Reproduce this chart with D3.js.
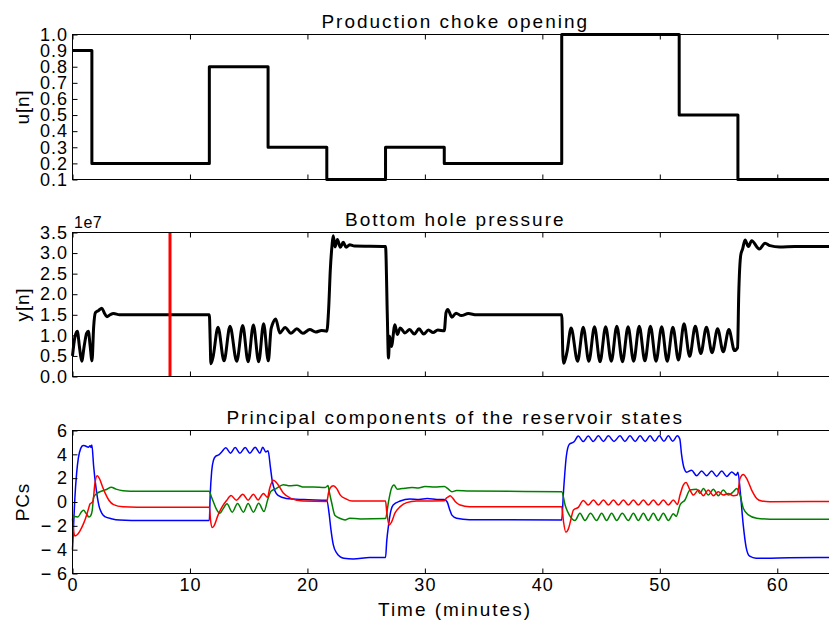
<!DOCTYPE html>
<html>
<head>
<meta charset="utf-8">
<script src="https://cdnjs.cloudflare.com/ajax/libs/d3/7.8.5/d3.min.js"></script>
<style>
  body { margin: 0; background: #fff; }
  svg text { font-family: "Liberation Sans", Arial, sans-serif; fill: #000; }
</style>
</head>
<body>
<div class="view"></div>
<script>
//Time axis (minutes)
const timeTicks = [0, 10, 20, 30, 40, 50, 60];
const timeMax = 65;

//Production choke opening u[n]: switch times and the level held after each
const stepTimes = [0, 1.65, 11.65, 16.65, 21.65, 26.65, 31.65, 41.65, 51.65, 56.65, 65];
const chokeLevels = [0.9, 0.2, 0.8, 0.3, 0.1, 0.3, 0.2, 1.0, 0.5, 0.1, 0.1];
const uTicks = [0.1, 0.2, 0.3, 0.4, 0.5, 0.6, 0.7, 0.8, 0.9, 1.0];

//Bottom hole pressure y[n], in units of 1e7, as [minutes, value]
const pressure = [
  [0,0.5],[0.2,0.95],[0.41,1.1],[0.6,0.7],[0.78,0.37],[1.0,0.75],[1.2,1.05],[1.35,1.1],[1.5,0.75],[1.66,0.38],
  [1.8,1.2],[1.95,1.55],[2.2,1.6],[2.5,1.66],[2.7,1.55],[2.93,1.45],[3.2,1.5],[3.5,1.53],[4.0,1.5],[11.65,1.5],
  [11.72,0.9],[11.78,0.31],[11.95,0.45],[12.39,1.2],[12.9,0.38],[13.41,1.22],[13.98,0.37],[14.49,1.24],[14.95,0.36],
  [15.4,1.25],[15.85,0.36],[16.27,1.28],[16.67,0.38],
  [16.9,1.15],[17.0,1.25],[17.3,1.4],[17.65,1.06],[18.1,1.19],[18.6,1.05],[19.1,1.16],[19.6,1.05],[20.2,1.14],
  [20.7,1.08],[21.2,1.12],[21.65,1.1],
  [21.8,1.6],[21.95,2.6],[22.1,3.2],[22.2,3.42],[22.35,3.15],[22.55,3.33],[22.8,3.14],[23.05,3.26],[23.3,3.14],
  [23.6,3.2],[24.0,3.17],[26.65,3.16],
  [26.8,1.5],[26.9,0.45],[27.0,0.98],[27.15,0.73],[27.45,1.26],[27.65,1.02],[27.9,1.18],[28.3,1.06],[28.7,1.14],
  [29.1,1.03],[29.5,1.16],[29.9,1.03],[30.3,1.13],[30.7,1.07],[31.1,1.13],[31.65,1.11],
  [31.8,1.55],[31.95,1.63],[32.3,1.44],[32.65,1.54],[33.1,1.48],[33.7,1.53],[34.4,1.5],[41.65,1.5],
  [41.75,0.5],[41.82,0.32],[42.1,0.6],[42.45,1.18],[43.0,0.37],[43.48,1.2],[43.96,0.37],[44.44,1.21],[44.91,0.36],
  [45.39,1.21],[45.87,0.37],[46.34,1.22],[46.82,0.36],[47.3,1.21],[47.77,0.37],[48.25,1.22],[48.73,0.38],[49.2,1.22],
  [49.68,0.37],[50.16,1.21],[50.63,0.37],[51.11,1.2],[51.59,0.4],[52.06,1.28],[52.54,0.49],[53.02,1.22],[53.49,0.56],
  [53.97,1.2],[54.45,0.58],[54.92,1.16],[55.4,0.6],[55.88,1.14],[56.36,0.63],[56.62,0.7],
  [56.72,2.0],[56.89,2.95],[57.05,3.1],[57.26,3.32],[57.54,3.16],[57.82,3.3],[58.47,3.1],[58.96,3.24],[59.38,3.18],
  [60.2,3.15],[61.5,3.16],[65,3.16]
];
const markerTime = 8.3;
const pTicks = [0, 0.5, 1.0, 1.5, 2.0, 2.5, 3.0, 3.5];

//Principal components of the reservoir states, [minutes, value]
const pcBlue = [
  [0,-4.0],[0.1,-1.8],[0.2,0.3],[0.35,2.4],[0.5,3.7],[0.7,4.5],[0.9,4.75],[1.1,4.7],[1.35,4.6],[1.5,4.72],[1.57,4.58],
  [1.65,4.78],[1.8,3.0],[2.0,1.2],[2.25,-0.3],[2.5,-0.95],[2.8,-1.25],[3.3,-1.4],[4.0,-1.52],[5.0,-1.55],[11.65,-1.55],
  [11.72,0.5],[11.85,2.6],[12.0,3.5],[12.2,3.85],[12.45,3.95],[12.7,4.2],[13.05,4.55],[13.45,4.1],[13.85,4.58],
  [14.25,4.1],[14.7,4.58],[15.1,4.1],[15.55,4.6],[15.95,4.1],[16.2,4.6],[16.45,4.2],[16.65,4.3],[16.85,2.9],[17.0,1.8],
  [17.25,0.9],[17.5,0.55],[18.2,0.3],[19.7,0.2],[21.65,0.15],
  [21.85,-1.0],[22.0,-2.3],[22.2,-3.58],[22.5,-4.3],[22.8,-4.6],[23.1,-4.72],[23.9,-4.78],[25.3,-4.65],[26.65,-4.65],
  [26.75,-3.3],[26.9,-2.0],[27.05,-1.0],[27.3,-0.25],[27.9,0.08],[28.7,0.25],[29.5,0.22],[30.2,0.3],[31.0,0.22],
  [31.65,0.2],[31.9,0.0],[32.1,-0.6],[32.3,-1.1],[32.7,-1.36],[33.8,-1.48],[41.65,-1.5],
  [41.8,0.86],[42.05,3.9],[42.3,4.85],[42.7,5.05],[43.06,5.53],[43.48,5.08],[43.91,5.53],[44.34,5.08],[44.77,5.55],
  [45.2,5.08],[45.62,5.55],[46.1,5.08],[46.61,5.55],[47.03,5.08],[47.46,5.55],[47.9,5.08],[48.32,5.55],[48.75,5.08],
  [49.17,5.55],[49.57,5.1],[49.96,5.55],[50.35,5.1],[50.73,5.55],[51.1,5.1],[51.49,5.55],[51.7,5.3],
  [51.85,4.0],[52.05,2.9],[52.3,2.5],[52.7,2.67],[53.14,2.2],[53.56,2.6],[53.99,2.2],[54.41,2.6],[54.84,2.15],
  [55.27,2.6],[55.69,2.15],[56.12,2.52],[56.5,2.25],[56.65,2.5],[56.85,0.86],[57.1,-1.9],[57.35,-3.8],[57.65,-4.55],
  [58.2,-4.72],[59.0,-4.72],[61.0,-4.68],[65,-4.66]
];
const pcGreen = [
  [0,-1.1],[0.2,-1.22],[0.45,-1.25],[0.8,-0.78],[0.95,-0.7],[1.15,-0.95],[1.4,-1.25],[1.55,-1.15],[1.68,-0.7],
  [1.8,0.4],[2.05,0.7],[2.5,0.92],[2.9,1.05],[3.3,1.24],[3.7,1.08],[4.3,0.95],[5.5,0.9],[11.65,0.9],
  [11.8,0.5],[12.0,0.0],[12.25,-0.6],[12.55,-0.95],[12.8,-0.6],[13.15,-0.15],[13.6,-0.85],[14.05,-0.12],[14.55,-0.85],
  [14.95,-0.12],[15.4,-0.85],[15.85,-0.1],[16.3,-0.8],[16.65,0.3],[16.9,0.9],[17.3,1.1],[17.95,1.45],[18.5,1.36],
  [19.1,1.4],[19.7,1.25],[20.5,1.25],[21.5,1.22],[21.65,1.3],
  [21.75,1.38],[21.85,0.9],[22.05,0.0],[22.35,-1.14],[22.75,-1.36],[23.2,-1.5],[23.6,-1.36],[24.5,-1.42],[26.65,-1.38],
  [26.9,0.0],[27.15,1.14],[27.37,1.42],[27.65,1.08],[28.3,1.16],[28.9,1.22],[29.45,1.18],[30.0,1.3],[30.85,1.25],
  [31.65,1.3],[32.0,1.08],[32.3,0.86],[32.7,0.97],[33.8,0.92],[41.65,0.86],
  [41.95,-0.3],[42.3,-1.1],[42.78,-1.55],[43.2,-0.95],[43.63,-1.55],[44.1,-0.95],[44.62,-1.55],[45.05,-0.95],
  [45.47,-1.55],[45.9,-0.95],[46.33,-1.55],[46.8,-0.95],[47.32,-1.55],[47.75,-0.95],[48.17,-1.55],[48.6,-0.95],
  [49.02,-1.55],[49.45,-0.95],[49.87,-1.55],[50.3,-0.95],[50.73,-1.55],[51.15,-0.98],[51.4,-1.2],[51.72,-0.25],
  [52.14,0.17],[52.57,1.0],[53.14,1.08],[53.42,0.72],[53.71,1.14],[54.13,0.58],[54.56,1.08],[54.98,0.53],[55.41,1.0],
  [55.83,0.58],[56.26,0.86],[56.55,1.14],[56.83,0.58],[57.11,-0.53],[57.54,-1.08],[58.25,-1.36],[59.38,-1.44],[65,-1.44]
];
const pcRed = [
  [0,-1.4],[0.08,-2.3],[0.2,-2.85],[0.4,-2.75],[0.65,-2.4],[0.9,-1.9],[1.1,-1.4],[1.35,-0.6],[1.5,-0.15],[1.65,-0.05],
  [1.75,0.1],[1.9,1.5],[2.1,2.2],[2.3,1.95],[2.55,1.3],[2.8,0.7],[3.1,0.15],[3.5,-0.22],[4.3,-0.4],[5.5,-0.44],[11.65,-0.45],
  [11.75,-1.5],[11.9,-2.15],[12.05,-2.0],[12.4,-1.08],[12.8,-0.3],[13.1,0.1],[13.5,0.55],[13.95,0.15],[14.5,0.65],
  [14.95,0.15],[15.4,0.65],[15.8,0.17],[16.25,0.72],[16.6,0.4],[16.8,1.2],[17.1,1.82],[17.5,1.45],[17.95,0.75],
  [18.6,0.3],[19.6,0.08],[21.65,0.05],
  [21.8,0.8],[21.95,1.2],[22.2,1.36],[22.5,1.12],[22.8,0.58],[23.3,0.25],[23.8,0.08],[26.65,0.08],[26.75,-0.8],
  [26.95,-1.92],[27.15,-1.7],[27.45,-0.94],[27.9,-0.39],[28.45,-0.05],[29.3,0.08],[31.65,0.1],[31.85,0.35],[32.0,0.44],
  [32.15,0.53],[32.35,0.35],[32.6,0.03],[33.0,-0.25],[33.8,-0.39],[41.65,-0.4],
  [41.8,-1.64],[42.0,-2.53],[42.2,-2.3],[42.4,-1.6],[42.65,-0.67],[43.06,-0.45],[43.49,0.12],[43.91,-0.25],[44.35,0.17],
  [44.77,-0.25],[45.2,0.17],[45.62,-0.25],[46.05,0.17],[46.47,-0.25],[46.9,0.17],[47.32,-0.25],[47.75,0.17],[48.17,-0.25],
  [48.6,0.17],[49.02,-0.25],[49.45,0.17],[49.87,-0.25],[50.3,0.17],[50.73,-0.25],[51.15,0.17],[51.5,-0.2],[51.72,0.58],
  [52.0,1.42],[52.23,1.64],[52.57,1.0],[52.86,0.58],[53.28,1.0],[53.71,0.53],[54.13,1.0],[54.56,0.53],[54.98,0.86],
  [55.41,0.58],[55.83,0.72],[56.26,0.53],[56.6,0.58],[56.83,1.97],[57.11,2.3],[57.4,1.97],[57.82,1.0],[58.25,0.3],
  [58.68,0.08],[59.38,0.03],[65,0.05]
];
const pcTicks = [-6, -4, -2, 0, 2, 4, 6];

const FONT = '"Liberation Sans", Arial, sans-serif';

/** One subplot: frame, inward ticks, title and y label */
class Panel {
    constructor(svg, x, opts) {
        this.x = x;
        this.opts = opts;
        this.y = d3.scaleLinear().domain(opts.yDomain).range([opts.bottom, opts.top]);
        this.g = svg.append("g");
        this.lines = this.g.append("g");
        this.axes = this.g.append("g");
    }

    plot(data, color, width, curve) {
        const line = d3.line()
            .x(d => this.x(d[0]))
            .y(d => this.y(d[1]))
            .curve(curve || d3.curveMonotoneX);
        this.lines.append("path")
            .datum(data)
            .attr("d", line)
            .attr("fill", "none")
            .attr("stroke", color)
            .attr("stroke-width", width)
            .attr("stroke-linejoin", "round");
    }

    drawAxes() {
        const o = this.opts;
        const [x0, x1] = this.x.range();

        //frame
        this.axes.append("rect")
            .attr("x", x0).attr("y", o.top)
            .attr("width", x1 - x0).attr("height", o.bottom - o.top)
            .attr("fill", "none").attr("stroke", "#000").attr("stroke-width", 1);

        const style = sel => {
            sel.select(".domain").remove();
            sel.selectAll(".tick line").attr("stroke", "#000");
            sel.selectAll("text")
                .attr("font-family", FONT)
                .attr("font-size", 18)
                .attr("letter-spacing", 1)
                .attr("fill", "#000");
        };

        this.axes.append("g")
            .attr("transform", `translate(0,${o.bottom})`)
            .call(d3.axisBottom(this.x).tickValues(timeTicks).tickSize(-5).tickPadding(5)
                .tickFormat(o.showTime ? d3.format("d") : ""))
            .call(style);

        this.axes.append("g")
            .attr("transform", `translate(0,${o.top})`)
            .call(d3.axisTop(this.x).tickValues(timeTicks).tickSize(-5).tickFormat(""))
            .call(style);

        this.axes.append("g")
            .attr("transform", `translate(${x0},0)`)
            .call(d3.axisLeft(this.y).tickValues(o.yTicks).tickSize(-5).tickPadding(4.5)
                .tickFormat(o.yFormat))
            .call(style);

        //title
        this.axes.append("text")
            .attr("x", (x0 + x1) / 2 + 1)
            .attr("y", o.top - 6.5)
            .attr("text-anchor", "middle")
            .attr("font-size", 19)
            .attr("letter-spacing", 2)
            .text(o.title);

        //y label
        this.axes.append("text")
            .attr("transform", `translate(29,${(o.top + o.bottom) / 2}) rotate(-90)`)
            .attr("text-anchor", "middle")
            .attr("font-size", 19)
            .attr("letter-spacing", 0.8)
            .text(o.yLabel);
    }
}

const svg = d3.select(".view").append("svg")
    .attr("width", 829)
    .attr("height", 624);

const x = d3.scaleLinear().domain([0, timeMax]).range([72.5, 836]);

//Top: choke opening
const p1 = new Panel(svg, x, {
    top: 34.5, bottom: 179.5, yDomain: [0.1, 1.0], yTicks: uTicks, yFormat: d3.format(".1f"),
    title: "Production choke opening", yLabel: "u[n]"
});
p1.plot(stepTimes.map((t, i) => [t, chokeLevels[i]]), "#000", 3, d3.curveStepAfter);
p1.drawAxes();

//Middle: bottom hole pressure
const p2 = new Panel(svg, x, {
    top: 232.5, bottom: 376.5, yDomain: [0, 3.5], yTicks: pTicks, yFormat: d3.format(".1f"),
    title: "Bottom hole pressure", yLabel: "y[n]"
});
p2.plot(pressure, "#000", 3);
p2.lines.append("line")
    .attr("x1", x(markerTime)).attr("x2", x(markerTime))
    .attr("y1", 232.5).attr("y2", 376.5)
    .attr("stroke", "#ff0000").attr("stroke-width", 3);
p2.drawAxes();
p2.axes.append("text")
    .attr("x", 74).attr("y", 228)
    .attr("font-size", 16)
    .attr("letter-spacing", 0.5)
    .text("1e7");

//Bottom: principal components
const p3 = new Panel(svg, x, {
    top: 430.5, bottom: 573.5, yDomain: [-6, 6], yTicks: pcTicks,
    yFormat: d => d < 0 ? "\u2212\u2009" + Math.abs(d) : String(d),
    title: "Principal components of the reservoir states", yLabel: "PCs", showTime: true
});
p3.plot(pcBlue, "#0000ff", 1.5);
p3.plot(pcGreen, "#008000", 1.5);
p3.plot(pcRed, "#ff0000", 1.5);
p3.drawAxes();

svg.append("text")
    .attr("x", 455)
    .attr("y", 616)
    .attr("text-anchor", "middle")
    .attr("font-size", 19)
    .attr("letter-spacing", 2)
    .text("Time (minutes)");
</script>
</body>
</html>
